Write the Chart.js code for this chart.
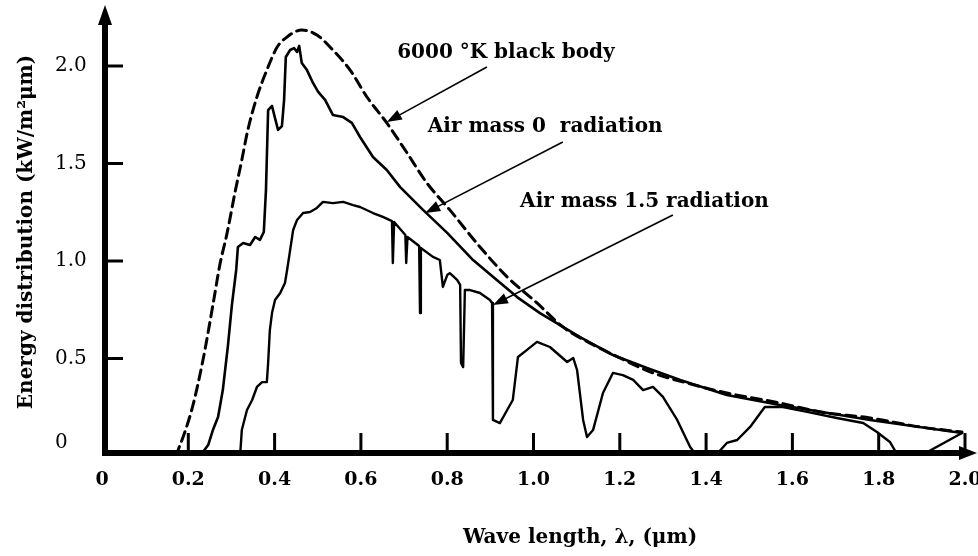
<!DOCTYPE html>
<html>
<head>
<meta charset="utf-8">
<script src="https://cdn.jsdelivr.net/npm/chart.js@4.4.1/dist/chart.umd.min.js"></script>
<style>
    html, body { margin: 0; padding: 0; background: #fff; }
</style>
</head>
<body>
<canvas id="spectrum" width="978" height="556"></canvas>
<script>
// axis ticks
const xTicks = [0, 0.2, 0.4, 0.6, 0.8, 1.0, 1.2, 1.4, 1.6, 1.8, 2.0];
const yTicks = [0, 0.5, 1.0, 1.5, 2.0];

// 6000 K black body (dashed)
const bbWave = [0.171, 0.192, 0.211, 0.234, 0.257, 0.273, 0.290, 0.308, 0.324, 0.338, 0.359, 0.382, 0.406, 0.429,
    0.463, 0.498, 0.535, 0.575, 0.614, 0.660, 0.707, 0.753, 0.806, 0.876, 0.939, 1.008, 1.068, 1.131, 1.200,
    1.277, 1.356, 1.448, 1.571, 1.664, 1.780, 1.896, 1.993];
const bbPower = [0, 0.123, 0.262, 0.492, 0.774, 0.979, 1.144, 1.349, 1.518, 1.672, 1.841, 1.979, 2.097, 2.149,
    2.185, 2.159, 2.082, 1.979, 1.841, 1.708, 1.554, 1.400, 1.262, 1.072, 0.918, 0.785, 0.662, 0.579, 0.503,
    0.426, 0.374, 0.323, 0.272, 0.226, 0.195, 0.149, 0.123];

// air mass 0
const am0Wave = [0.227, 0.246, 0.257, 0.269, 0.280, 0.292, 0.301, 0.311, 0.315, 0.327, 0.343, 0.355, 0.366, 0.375,
    0.380, 0.385, 0.394, 0.401, 0.408, 0.417, 0.422, 0.426, 0.436, 0.445, 0.452, 0.457, 0.463, 0.475, 0.489,
    0.501, 0.517, 0.535, 0.559, 0.579, 0.598, 0.628, 0.660, 0.691, 0.744, 0.800, 0.860, 0.915, 0.962, 1.015,
    1.108, 1.184, 1.263, 1.340, 1.448, 1.571, 1.780, 1.993];
const am0Power = [0, 0.056, 0.133, 0.200, 0.338, 0.569, 0.774, 0.954, 1.072, 1.092, 1.082, 1.123, 1.108, 1.149,
    1.364, 1.774, 1.795, 1.733, 1.672, 1.692, 1.826, 2.046, 2.082, 2.092, 2.072, 2.103, 2.015, 1.979, 1.913,
    1.867, 1.826, 1.749, 1.738, 1.708, 1.636, 1.533, 1.467, 1.379, 1.262, 1.144, 1.005, 0.903, 0.815, 0.733,
    0.610, 0.518, 0.451, 0.390, 0.313, 0.262, 0.185, 0.118];

// air mass 1.5
const am15Wave = [0.320, 0.324, 0.336, 0.348, 0.359, 0.371, 0.382, 0.385, 0.389, 0.394, 0.401, 0.413, 0.424, 0.429,
    0.436, 0.443, 0.452, 0.466, 0.482, 0.498, 0.512, 0.535, 0.559, 0.582, 0.598, 0.628, 0.651, 0.667,
    0.672, 0.674, 0.677, 0.703, 0.705, 0.708, 0.735, 0.737, 0.739, 0.767, 0.783, 0.790, 0.800, 0.806, 0.823,
    0.830, 0.832, 0.837, 0.841, 0.853, 0.876, 0.899, 0.904, 0.906, 0.922, 0.939, 0.952, 0.964, 0.985, 1.008,
    1.038, 1.078, 1.092, 1.101, 1.115, 1.124, 1.138, 1.161, 1.184, 1.207, 1.231, 1.254, 1.277, 1.300, 1.333,
    1.363, 1.379, 1.421, 1.448, 1.472, 1.502, 1.536, 1.578, 1.634, 1.703, 1.764, 1.796, 1.826, 1.845, 1.896,
    1.993];
const am15Power = [0, 0.133, 0.236, 0.287, 0.354, 0.379, 0.379, 0.477, 0.646, 0.733, 0.800, 0.836, 0.887, 0.954,
    1.056, 1.159, 1.210, 1.246, 1.251, 1.272, 1.303, 1.297, 1.303, 1.287, 1.277, 1.246, 1.226, 1.210,
    1.205, 0.990, 1.200, 1.133, 0.990, 1.123, 1.077, 0.733, 1.067, 1.021, 1.005, 0.867, 0.928, 0.938, 0.903,
    0.877, 0.477, 0.456, 0.851, 0.851, 0.836, 0.800, 0.785, 0.185, 0.169, 0.236, 0.287, 0.508, 0.544, 0.585,
    0.559, 0.482, 0.503, 0.441, 0.185, 0.097, 0.133, 0.323, 0.426, 0.415, 0.390, 0.338, 0.354, 0.303, 0.185,
    0.046, 0, 0, 0.067, 0.082, 0.149, 0.251, 0.251, 0.226, 0.195, 0.169, 0.123, 0.072, 0, 0,
    0.118];

// callout labels with arrows (data coordinates)
const notes = [
    { text: '6000 °K black body', x: 0.684, y: 2.067, fromX: 0.892, fromY: 1.995, toX: 0.660, toY: 1.713 },
    { text: 'Air mass 0  radiation', x: 0.755, y: 1.687, fromX: 1.068, fromY: 1.610, toX: 0.749, toY: 1.246 },
    { text: 'Air mass 1.5 radiation', x: 0.969, y: 1.303, fromX: 1.323, fromY: 1.236, toX: 0.906, toY: 0.774 },
];

const serif = '"DejaVu Serif", "Liberation Serif", serif';

function toPoints(xs, ys) {
    return xs.map((x, i) => ({ x: x, y: ys[i] }));
}

function drawArrow(ctx, x1, y1, x2, y2, len, half) {
    const ang = Math.atan2(y2 - y1, x2 - x1);
    ctx.beginPath();
    ctx.moveTo(x1, y1);
    ctx.lineTo(x2 - Math.cos(ang) * len * 0.6, y2 - Math.sin(ang) * len * 0.6);
    ctx.stroke();
    ctx.beginPath();
    ctx.moveTo(x2, y2);
    ctx.lineTo(x2 - Math.cos(ang) * len + Math.sin(ang) * half, y2 - Math.sin(ang) * len - Math.cos(ang) * half);
    ctx.lineTo(x2 - Math.cos(ang) * len - Math.sin(ang) * half, y2 - Math.sin(ang) * len + Math.cos(ang) * half);
    ctx.closePath();
    ctx.fill();
}

// axes with arrows, inward ticks, titles and callouts
const decor = {
    id: 'decor',
    afterDatasetsDraw(chart) {
        const { ctx, chartArea: a, scales: { x, y } } = chart;
        const ax = x.getPixelForValue(0) + 3;
        const ay = y.getPixelForValue(0) - 3;
        ctx.save();
        ctx.strokeStyle = '#000';
        ctx.fillStyle = '#000';

        // axis lines
        ctx.lineWidth = 6;
        ctx.beginPath();
        ctx.moveTo(ax, a.top + 12);
        ctx.lineTo(ax, ay + 3);
        ctx.stroke();
        ctx.beginPath();
        ctx.moveTo(ax - 3, ay);
        ctx.lineTo(a.right - 10, ay);
        ctx.stroke();
        ctx.beginPath();
        ctx.moveTo(ax, a.top);
        ctx.lineTo(ax - 7, a.top + 20);
        ctx.lineTo(ax + 7, a.top + 20);
        ctx.closePath();
        ctx.fill();
        ctx.beginPath();
        ctx.moveTo(a.right + 1, ay);
        ctx.lineTo(a.right - 17, ay - 7);
        ctx.lineTo(a.right - 17, ay + 7);
        ctx.closePath();
        ctx.fill();

        // inward ticks
        ctx.lineWidth = 3;
        xTicks.forEach(v => {
            if (v === 0) return;
            const px = x.getPixelForValue(v);
            ctx.beginPath();
            ctx.moveTo(px, ay);
            ctx.lineTo(px, ay - 20);
            ctx.stroke();
        });
        yTicks.forEach(v => {
            if (v === 0) return;
            const py = y.getPixelForValue(v);
            ctx.beginPath();
            ctx.moveTo(ax, py);
            ctx.lineTo(ax + 18, py);
            ctx.stroke();
        });

        // y zero label sits a little above the axis
        ctx.font = '20px ' + serif;
        ctx.textAlign = 'left';
        ctx.textBaseline = 'middle';
        ctx.fillText('0', 55, y.getPixelForValue(0) - 13);

        // callouts
        ctx.font = 'bold 20px ' + serif;
        ctx.lineWidth = 1.6;
        notes.forEach(n => {
            ctx.fillText(n.text, x.getPixelForValue(n.x), y.getPixelForValue(n.y));
            drawArrow(ctx, x.getPixelForValue(n.fromX), y.getPixelForValue(n.fromY),
                x.getPixelForValue(n.toX), y.getPixelForValue(n.toY), 15, 5.5);
        });

        // axis titles
        ctx.textAlign = 'center';
        ctx.fillText('Wave length, \u03bb, (\u03bcm)', 580, 538);
        ctx.translate(27, 232);
        ctx.rotate(-Math.PI / 2);
        ctx.fillText('Energy distribution (kW/m\u00b2\u03bcm)', 0, 0);
        ctx.restore();
    }
};

new Chart(document.getElementById('spectrum'), {
    type: 'line',
    data: {
        datasets: [
            {
                label: '6000 °K black body',
                data: toPoints(bbWave, bbPower),
                borderColor: '#000',
                borderWidth: 3,
                borderDash: [10, 6],
                cubicInterpolationMode: 'monotone',
            },
            {
                label: 'Air mass 0 radiation',
                data: toPoints(am0Wave, am0Power),
                borderColor: '#000',
                borderWidth: 2.6,
                tension: 0,
            },
            {
                label: 'Air mass 1.5 radiation',
                data: toPoints(am15Wave, am15Power),
                borderColor: '#000',
                borderWidth: 2.4,
                tension: 0,
            },
        ]
    },
    options: {
        responsive: false,
        animation: false,
        layout: { padding: { top: 5, right: 2, left: 55, bottom: 0 } },
        elements: {
            point: { radius: 0 },
            line: { fill: false, borderJoinStyle: 'round', borderCapStyle: 'round' },
        },
        plugins: {
            legend: { display: false },
            tooltip: { enabled: false },
        },
        scales: {
            x: {
                type: 'linear',
                min: 0,
                max: 2.0255,
                afterBuildTicks: s => { s.ticks = xTicks.map(v => ({ value: v })); },
                afterFit: s => {
                    s.height = 100;
                    s.paddingLeft = 0;
                    s.paddingRight = 0;
                },
                grid: { display: false, drawTicks: false },
                border: { display: false },
                ticks: {
                    padding: 13,
                    color: '#000',
                    maxRotation: 0,
                    autoSkip: false,
                    font: { family: serif, size: 19, weight: 'bold' },
                    callback: v => v === 0 ? '0' : v.toFixed(1),
                },
            },
            y: {
                min: 0,
                max: 2.3128,
                afterBuildTicks: s => { s.ticks = yTicks.map(v => ({ value: v })); },
                afterFit: s => {
                    s.width = 47;
                    s.paddingTop = 0;
                    s.paddingBottom = 0;
                },
                grid: { display: false, drawTicks: false },
                border: { display: false },
                ticks: {
                    crossAlign: 'far',
                    color: '#000',
                    font: { family: serif, size: 20 },
                    callback: v => v === 0 ? '' : v.toFixed(1),
                },
            },
        },
    },
    plugins: [decor],
});
</script>
</body>
</html>
